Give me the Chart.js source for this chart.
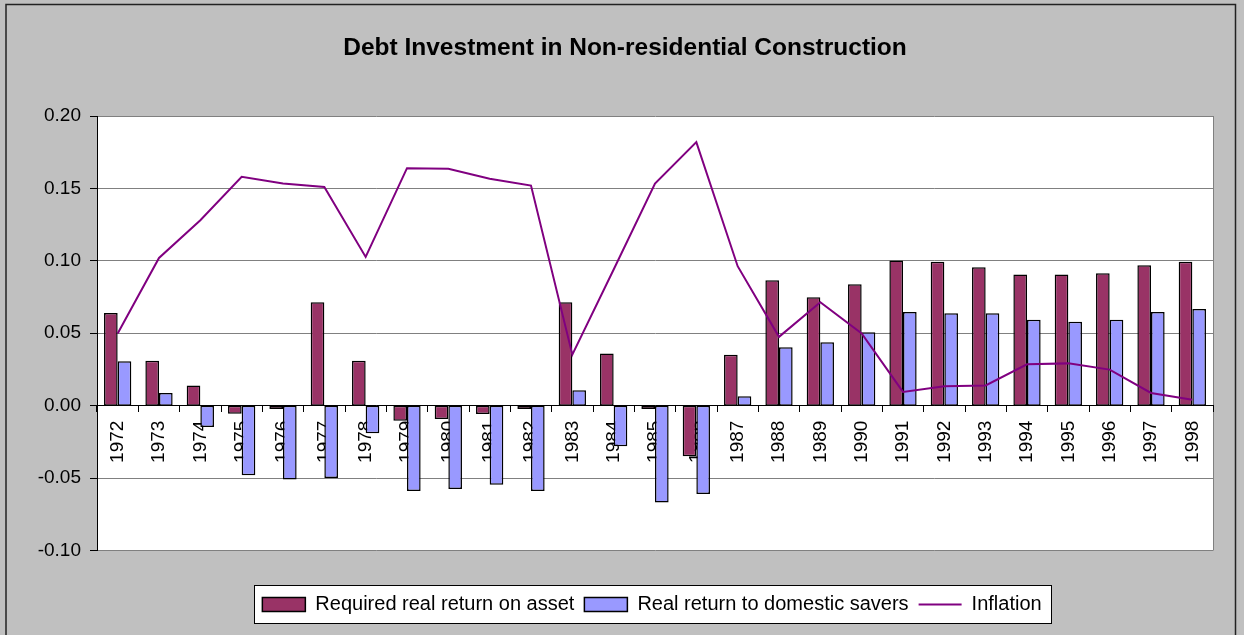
<!DOCTYPE html>
<html>
<head>
<meta charset="utf-8">
<script src="https://cdn.jsdelivr.net/npm/chart.js@4/dist/chart.umd.min.js"></script>
<style>
html,body{margin:0;padding:0;background:#C0C0C0;}
canvas{display:block;}
</style>
</head>
<body>
<canvas id="c" width="1244" height="635"></canvas>
<script>
const years = ['1972','1973','1974','1975','1976','1977','1978','1979','1980','1981','1982','1983','1984','1985','1986','1987','1988','1989','1990','1991','1992','1993','1994','1995','1996','1997','1998'];
const requiredReturn = [0.064, 0.031, 0.014, -0.0055, -0.0023, 0.0714, 0.031, -0.0104, -0.0092, -0.0058, -0.0023, 0.0714, 0.036, -0.0023, -0.035, 0.0352, 0.0866, 0.0749, 0.0838, 0.1002, 0.0993, 0.0956, 0.0905, 0.0905, 0.0914, 0.097, 0.0993];
const saversReturn = [0.0306, 0.0088, -0.0147, -0.048, -0.051, -0.050, -0.019, -0.059, -0.0576, -0.0546, -0.059, 0.0106, -0.028, -0.0668, -0.061, 0.0065, 0.0403, 0.0438, 0.0507, 0.0647, 0.0638, 0.0638, 0.0594, 0.058, 0.0594, 0.0647, 0.0668];
const inflation = [0.0498, 0.102, 0.128, 0.158, 0.1534, 0.151, 0.1027, 0.164, 0.1636, 0.1567, 0.152, 0.0352, 0.094, 0.1534, 0.182, 0.0963, 0.0475, 0.0714, 0.0498, 0.0095, 0.0134, 0.014, 0.0286, 0.0292, 0.0249, 0.0088, 0.0041];
const yTickLabels = ['-0.10', '-0.05', '0.00', '0.05', '0.10', '0.15', '0.20'];
const seriesNames = ['Required real return on asset', 'Real return to domestic savers', 'Inflation'];
const titleText = 'Debt Investment in Non-residential Construction';

Chart.defaults.font.family = "'Liberation Sans', Arial, sans-serif";
Chart.defaults.color = '#000';

const LEGEND_SHIFT_X = 27;
const LEGEND_SHIFT_Y = 34;

const frame = {
  id: 'frame',
  afterLayout(chart) {
    const lg = chart.legend;
    lg.left += LEGEND_SHIFT_X;
    lg.right += LEGEND_SHIFT_X;
    lg.top += LEGEND_SHIFT_Y;
    lg.bottom += LEGEND_SHIFT_Y;
  },
  beforeDraw(chart) {
    const ctx = chart.ctx;
    const a = chart.chartArea;
    ctx.save();
    ctx.fillStyle = '#C0C0C0';
    ctx.fillRect(0, 0, chart.width, chart.height);
    ctx.strokeStyle = '#222';
    ctx.lineWidth = 1.5;
    ctx.strokeRect(6, 4.5, 1229.5, 700);
    ctx.fillStyle = '#fff';
    ctx.fillRect(a.left, a.top, a.right - a.left, a.bottom - a.top);
    ctx.strokeStyle = '#808080';
    ctx.lineWidth = 1;
    ctx.beginPath();
    ctx.moveTo(Math.round(a.right) + 0.5, a.top);
    ctx.lineTo(Math.round(a.right) + 0.5, a.bottom);
    ctx.stroke();
    const hb = chart.legend.legendHitBoxes;
    if (hb && hb.length) {
      const first = hb[0], last = hb[hb.length - 1];
      const x0 = first.left - 8;
      const x1 = last.left + last.width + 10;
      const yc = first.top + first.height / 2;
      ctx.fillStyle = '#fff';
      ctx.fillRect(x0, yc - 19.5, x1 - x0, 39);
      ctx.strokeStyle = '#000';
      ctx.lineWidth = 1;
      ctx.strokeRect(Math.round(x0) + 0.5, Math.round(yc - 19.5) + 0.5, Math.round(x1 - x0), 38);
    }
    ctx.restore();
  }
};

new Chart(document.getElementById('c'), {
  type: 'bar',
  data: {
    labels: years,
    datasets: [
      {
        label: seriesNames[0],
        data: requiredReturn,
        backgroundColor: '#993366',
        borderColor: '#000',
        borderWidth: 1.5,
        borderSkipped: false,
        categoryPercentage: 0.66,
        barPercentage: 1.0,
        order: 1
      },
      {
        label: seriesNames[1],
        data: saversReturn,
        backgroundColor: '#9999FF',
        borderColor: '#000',
        borderWidth: 1.5,
        borderSkipped: false,
        categoryPercentage: 0.66,
        barPercentage: 1.0,
        order: 1
      },
      {
        type: 'line',
        label: seriesNames[2],
        data: inflation,
        borderColor: '#800080',
        backgroundColor: '#800080',
        borderWidth: 2,
        pointRadius: 0,
        fill: false,
        tension: 0,
        order: 0
      }
    ]
  },
  options: {
    responsive: false,
    animation: false,
    devicePixelRatio: 1,
    layout: { padding: { left: 37, right: 31, top: 10, bottom: 10.5 + LEGEND_SHIFT_Y } },
    plugins: {
      title: {
        display: true,
        text: titleText,
        color: '#000',
        font: { size: 24.5, weight: 'bold' },
        padding: { top: 24, bottom: 52.6 }
      },
      legend: {
        position: 'bottom',
        labels: {
          color: '#000',
          font: { size: 20 },
          usePointStyle: true,
          pointStyleWidth: 43,
          boxHeight: 14,
          padding: 10,
          sort: (a, b) => a.datasetIndex - b.datasetIndex,
          generateLabels(chart) {
            const items = Chart.defaults.plugins.legend.labels.generateLabels(chart);
            items.forEach(it => {
              const ds = chart.data.datasets[it.datasetIndex];
              it.pointStyle = ds.type === 'line' ? 'line' : 'rect';
            });
            return items;
          }
        }
      },
      tooltip: { enabled: false }
    },
    scales: {
      x: {
        position: { y: 0 },
        offset: true,
        grid: { display: true, drawOnChartArea: false, drawTicks: true, tickLength: 6, color: '#000', offset: true },
        border: { display: true, color: '#000', width: 1 },
        ticks: { maxRotation: 90, minRotation: 90, autoSkip: false, padding: 9, font: { size: 19 }, color: '#000' },
        afterFit(scale) { scale.height = 0; }
      },
      y: {
        min: -0.1,
        max: 0.2,
        ticks: {
          stepSize: 0.05,
          padding: 9,
          font: { size: 19 },
          color: '#000',
          callback: (v, i) => yTickLabels[i]
        },
        grid: { color: '#808080', tickLength: 7, tickColor: '#000' },
        border: { display: true, color: '#000', width: 1 },
        afterFit(scale) { scale.width = 60; }
      }
    }
  },
  plugins: [frame]
});
</script>
</body>
</html>
